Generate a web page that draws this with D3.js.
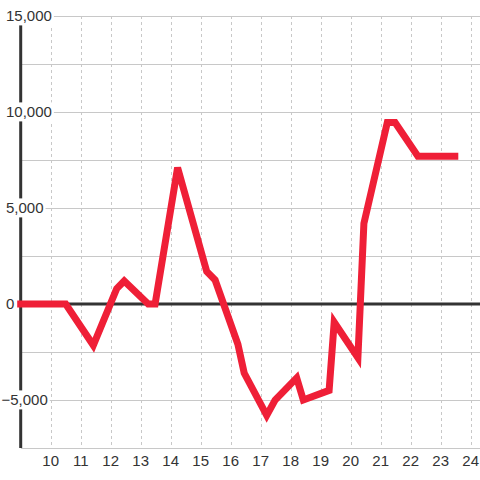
<!DOCTYPE html>
<html>
<head>
<meta charset="utf-8">
<script src="https://cdn.jsdelivr.net/npm/d3@7"></script>
<style>
html,body{margin:0;padding:0;background:#fff;}
svg{display:block;}
text{font-family:"Liberation Sans",Arial,sans-serif;font-size:15px;fill:#333;}
</style>
</head>
<body>
<svg id="chart" width="480" height="480"></svg>
<script>
const times  = [9, 10.5, 11.42, 12.2, 12.45, 13.25, 13.48, 14.23, 15.2, 15.48, 16.24, 16.45, 17.2, 17.48, 18.2, 18.42, 19.28, 19.45, 20.24, 20.44, 21.22, 21.48, 22.24, 23.47];
const values = [0, 0, -2150, 800, 1200, 0, 0, 7100, 1700, 1250, -2100, -3600, -5800, -5000, -3850, -5000, -4500, -950, -2800, 4200, 9450, 9450, 7700, 7700];
const xTicks = [10, 11, 12, 13, 14, 15, 16, 17, 18, 19, 20, 21, 22, 23, 24];
const yGrid  = [15000, 12500, 10000, 7500, 5000, 2500, 0, -2500, -5000, -7500];
const yLabels = [15000, 10000, 5000, 0, -5000];

const svg = d3.select("#chart");
const x = d3.scaleLinear().domain([9, 24]).range([20.7, 470.7]);
const y = d3.scaleLinear().domain([-7500, 15000]).range([448, 16]);
const fmt = d3.format(",");

// horizontal grid
svg.append("g").selectAll("line").data(yGrid.filter(d => d !== 0)).join("line")
  .attr("x1", x(9)).attr("x2", 480)
  .attr("y1", d => y(d)).attr("y2", d => y(d))
  .attr("stroke", "#c8c8c8").attr("stroke-width", 1).attr("shape-rendering", "crispEdges");

// vertical dashed grid
svg.append("g").selectAll("line").data(xTicks).join("line")
  .attr("x1", d => Math.round(x(d)) + 0.5).attr("x2", d => Math.round(x(d)) + 0.5)
  .attr("y1", y(15000)).attr("y2", y(-7500))
  .attr("stroke", "#c8c8c8").attr("stroke-width", 1).attr("stroke-dasharray", "3,3");

// zero line
svg.append("line")
  .attr("x1", x(9)).attr("x2", 480)
  .attr("y1", y(0)).attr("y2", y(0))
  .attr("stroke", "#333").attr("stroke-width", 3);

// y axis line
svg.append("line")
  .attr("x1", x(9)).attr("x2", x(9))
  .attr("y1", y(15000)).attr("y2", y(-7500))
  .attr("stroke", "#333").attr("stroke-width", 3);

// data line
const pts = times.map((t, i) => [t, values[i]]);
svg.append("path")
  .datum(pts)
  .attr("d", d3.line().x(d => x(d[0])).y(d => y(d[1])))
  .attr("fill", "none")
  .attr("stroke", "#ef1f37")
  .attr("stroke-width", 7)
  .attr("stroke-linecap", "square")
  .attr("stroke-linejoin", "miter");

// y labels with white background
const yl = svg.append("g");
yLabels.forEach(v => {
  const g = yl.append("g");
  const t = g.append("text")
    .attr("x", v < 0 ? 1.5 : 6)
    .attr("y", y(v))
    .attr("dy", "0.36em")
    .text(fmt(v));
  const bb = t.node().getBBox();
  g.insert("rect", "text")
    .attr("x", bb.x - 2).attr("y", bb.y - 1)
    .attr("width", bb.width + 4).attr("height", bb.height + 2)
    .attr("fill", "#fff");
});

// x labels
svg.append("g").selectAll("text").data(xTicks).join("text")
  .attr("x", d => x(d))
  .attr("y", 466)
  .attr("text-anchor", "middle")
  .text(d => d);
</script>
</body>
</html>
